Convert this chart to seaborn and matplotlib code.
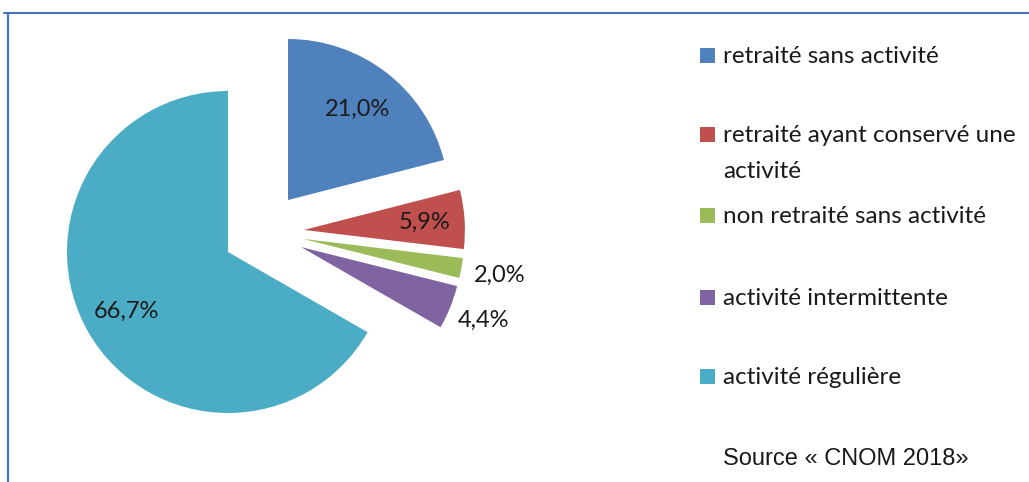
import numpy as np
import matplotlib
matplotlib.use("Agg")
import matplotlib.pyplot as plt
from matplotlib.lines import Line2D
from matplotlib.patches import Rectangle
import seaborn as sns

# ================= données =================
categories = [
    "retraité sans activité",
    "retraité ayant conservé une\nactivité",
    "non retraité sans activité",
    "activité intermittente",
    "activité régulière",
]
values = [21.0, 5.9, 2.0, 4.4, 66.7]
source = "Source « CNOM 2018»"

# ================= style =================
colors = ["#4F81BD", "#C0504D", "#9BBB59", "#8064A2", "#4BACC6"]
explode_dist = [0.493, 0.491, 0.473, 0.454, 0.0]   # en rayons
explode_dir = [40.9, 16.2, 9.9, 3.9, 0.0]          # degrés
label_dist = [0.71, 0.75, 1.245, 1.22, 0.73]

sns.set_theme(style="white")
plt.rcParams["font.family"] = ["Lato", "DejaVu Sans"]

W, H = 1029, 482
R = 161.0            # rayon en pixels
CX, CY = 228, 252    # centre du camembert (pixels, origine en haut)

fig = plt.figure(figsize=(W / 100, H / 100), dpi=100)
ax = fig.add_axes([0, 0, 1, 1])

wedges, _ = ax.pie(values, colors=colors, startangle=90, counterclock=False,
                   radius=1, wedgeprops=dict(linewidth=0))

for w, v, d, a, ld in zip(wedges, values, explode_dist, explode_dir, label_dist):
    off = np.array([d * np.cos(np.radians(a)), d * np.sin(np.radians(a))])
    w.set_center(tuple(off))
    mid = np.radians((w.theta1 + w.theta2) / 2)
    pos = off + ld * np.array([np.cos(mid), np.sin(mid)])
    ax.text(pos[0], pos[1], f"{v:.1f}%".replace(".", ","), ha="center", va="center",
            fontsize=17, color="#1a1a1a")

ax.set_xlim(-CX / R, (W - CX) / R)
ax.set_ylim(-(H - CY) / R, CY / R)
ax.set_aspect("equal")
ax.axis("off")

# ================= légende =================
def fy(y):
    return 1 - y / H

baselines = [63, 142, 223, 305, 384]
line_gap = 36
for lab, col, yb in zip(categories, colors, baselines):
    fig.patches.append(Rectangle((700 / W, fy(yb)), 15 / W, 15 / H, transform=fig.transFigure,
                                 facecolor=col, edgecolor="none"))
    for k, part in enumerate(lab.split("\n")):
        fig.text(723 / W, fy(yb + k * line_gap), part, ha="left", va="baseline",
                 fontsize=17.5, color="#1a1a1a")

fig.text(723 / W, fy(465), source, ha="left", va="baseline", fontsize=17,
         color="#1a1a1a", family=["Liberation Sans", "DejaVu Sans"])

# cadre
fig.lines.append(Line2D([4 / W, 1], [fy(13), fy(13)], transform=fig.transFigure,
                        color="#4472C4", linewidth=1.5))
fig.lines.append(Line2D([8 / W, 8 / W], [fy(13), 0], transform=fig.transFigure,
                        color="#4472C4", linewidth=1.5))

fig.savefig("out.png", dpi=100)
